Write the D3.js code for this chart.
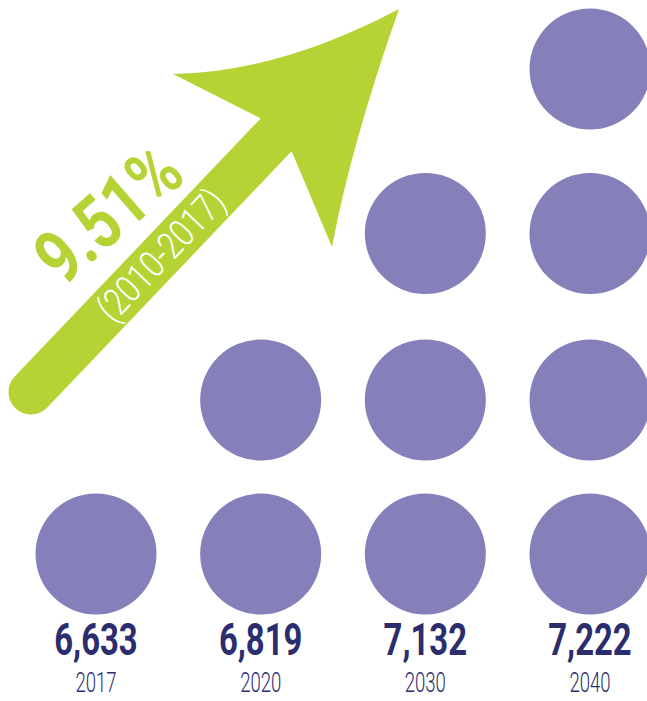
<!DOCTYPE html>
<html>
<head>
<meta charset="utf-8">
<script src="https://cdn.jsdelivr.net/npm/d3@7"></script>
<style>
  html, body { margin: 0; padding: 0; background: #ffffff; }
  svg { display: block; }
</style>
</head>
<body>
<div id="chart"></div>
<script>
// Projected totals by year, shown as stacked dots (one more dot per step)
const years = ["2017", "2020", "2030", "2040"];
const values = [6633, 6819, 7132, 7222];
const dotCounts = [1, 2, 3, 4];

// Growth annotation carried on the arrow
const growthRate = "9.51%";
const growthPeriod = "(2010-2017)";

const W = 647, H = 701;
const colors = { dot: "#857FBA", arrow: "#B5D334", label: "#2B2D6E", white: "#FFFFFF" };
const font = "Roboto, 'Liberation Sans', sans-serif";

const svg = d3.select("#chart").append("svg")
  .attr("width", W).attr("height", H);

// Column positions per year, row positions per stacked dot
const x = d3.scalePoint().domain(years).range([96, 590]);
const rowY = d3.scaleLinear().domain([0, 1, 2, 3]).range([554, 400, 233.5, 69]);
const radius = 60.5;

const columns = years.map((year, i) => ({ year, value: values[i], count: dotCounts[i] }));

// Dots
const col = svg.append("g").selectAll("g.col")
  .data(columns).join("g").attr("class", "col");

col.selectAll("circle")
  .data(d => d3.range(d.count).map(r => ({ year: d.year, row: r })))
  .join("circle")
  .attr("cx", d => x(d.year))
  .attr("cy", d => rowY(d.row))
  .attr("r", radius)
  .attr("fill", colors.dot);

// Value and year labels under each column (horizontally condensed)
const fmt = d3.format(",");
const labels = svg.append("g").selectAll("g.lab")
  .data(columns).join("g").attr("class", "lab")
  .attr("transform", d => `translate(${x(d.year)},0)`);

labels.append("text")
  .attr("transform", "translate(0,654.5) scale(0.73,1)")
  .attr("text-anchor", "middle")
  .attr("font-family", font)
  .attr("font-weight", 700)
  .attr("font-size", 45)
  .attr("fill", colors.label)
  .text(d => fmt(d.value));

labels.append("text")
  .attr("transform", "translate(0,692) scale(0.65,1)")
  .attr("text-anchor", "middle")
  .attr("font-family", font)
  .attr("font-weight", 300)
  .attr("font-size", 28.5)
  .attr("fill", colors.label)
  .text(d => d.year);

// Growth arrow: rounded shaft plus a swept arrowhead
const tail = [31, 392], neck = [276, 135];
const shaftLen = Math.hypot(neck[0] - tail[0], neck[1] - tail[1]);
const shaftAngle = Math.atan2(neck[1] - tail[1], neck[0] - tail[0]) * 180 / Math.PI;

const arrow = svg.append("g");

const head = d3.path();
head.moveTo(173, 74);
head.quadraticCurveTo(280, 72, 399, 9);
head.quadraticCurveTo(351, 145, 332, 247);
head.lineTo(292, 152);
head.lineTo(260, 118);
head.closePath();
arrow.append("path").attr("d", head.toString()).attr("fill", colors.arrow);

const along = arrow.append("g")
  .attr("transform", `translate(${tail[0]},${tail[1]}) rotate(${shaftAngle})`);

along.append("line")
  .attr("x1", 0).attr("y1", 0).attr("x2", shaftLen).attr("y2", 0)
  .attr("stroke", colors.arrow)
  .attr("stroke-width", 45)
  .attr("stroke-linecap", "round");

// Period label sits inside the shaft
along.append("text")
  .attr("x", 106).attr("y", 12.5)
  .attr("textLength", 166).attr("lengthAdjust", "spacingAndGlyphs")
  .attr("font-family", font)
  .attr("font-weight", 300)
  .attr("font-size", 38)
  .attr("fill", colors.white)
  .text(growthPeriod);

// Growth rate rides just above the shaft, slightly flatter than it
arrow.append("g")
  .attr("transform", `translate(${tail[0]},${tail[1]}) rotate(-41)`)
  .append("text")
  .attr("x", 92).attr("y", -58)
  .attr("textLength", 166).attr("lengthAdjust", "spacingAndGlyphs")
  .attr("font-family", font)
  .attr("font-weight", 700)
  .attr("font-size", 75)
  .attr("fill", colors.arrow)
  .text(growthRate);
</script>
</body>
</html>
